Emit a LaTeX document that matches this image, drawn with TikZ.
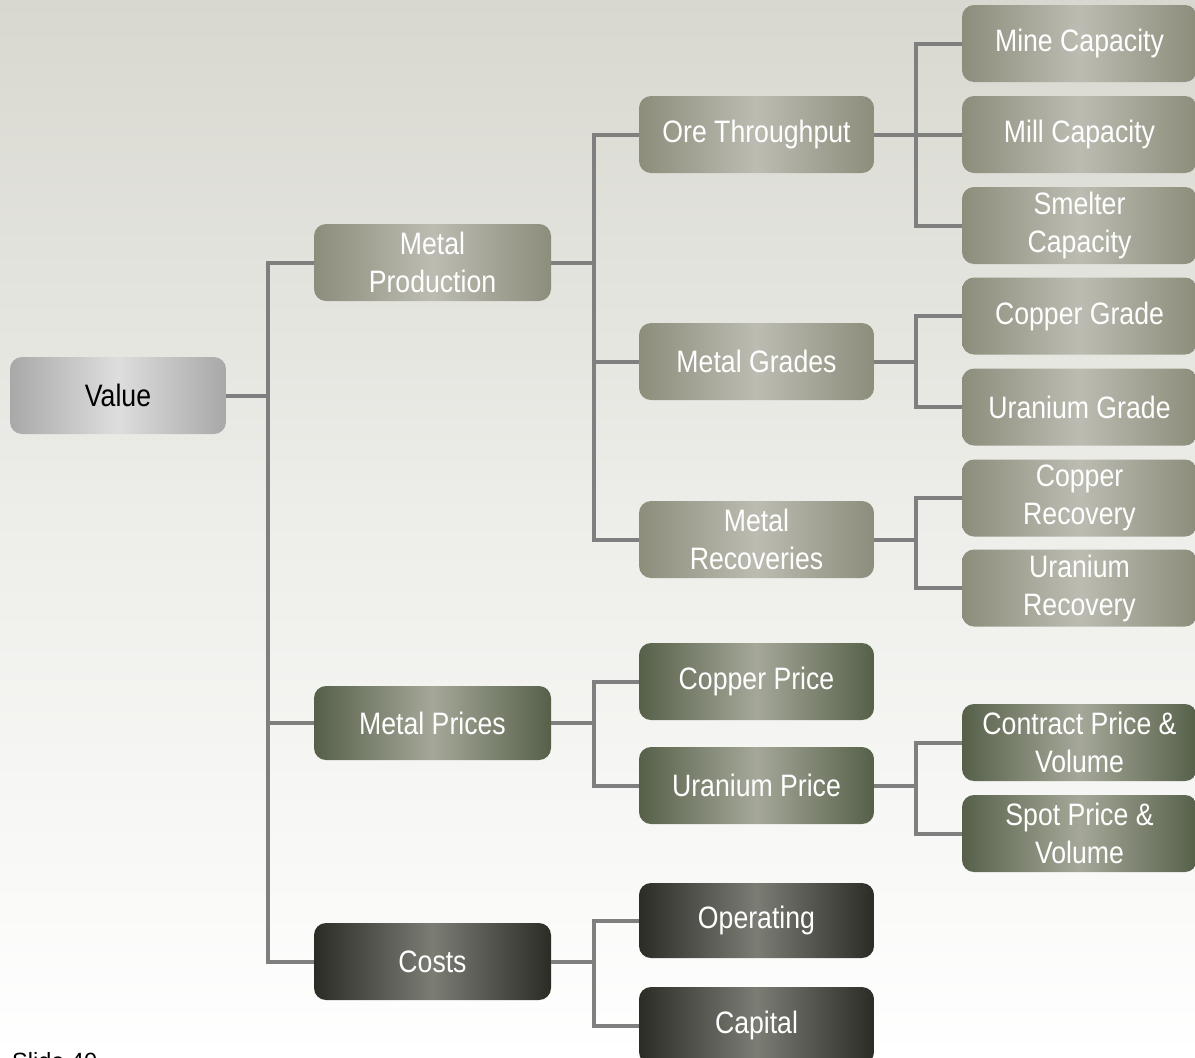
\documentclass[tikz,border=0pt]{standalone}
\usepackage{fontspec}
\setmainfont{Liberation Sans}[FakeStretch=0.86]
\newfontfamily\plainfont{Liberation Sans}
\definecolor{bgtop}{HTML}{D8D8D0}
\definecolor{bgbot}{HTML}{FFFFFF}
\definecolor{lineg}{HTML}{7F7F80}
\definecolor{vEdge}{HTML}{A8A8A8}
\definecolor{vMid}{HTML}{DEDEDE}
\definecolor{aEdge}{HTML}{8C8D7B}
\definecolor{aMid}{HTML}{BCBCB2}
\definecolor{bEdge}{HTML}{566049}
\definecolor{bMid}{HTML}{A5A899}
\definecolor{cEdge}{HTML}{2B2C26}
\definecolor{cMid}{HTML}{7B7C74}
\begin{document}
\begin{tikzpicture}[x=1pt,y=-1pt,
  box/.style={rectangle, rounded corners=12pt, minimum width=235pt, minimum height=77pt,
    inner sep=0pt, align=center, text=white, font=\fontsize{31}{38}\selectfont},
  grpV/.style={left color=vEdge, right color=vEdge, middle color=vMid, text=black},
  grpA/.style={left color=aEdge, right color=aEdge, middle color=aMid},
  grpB/.style={left color=bEdge, right color=bEdge, middle color=bMid},
  grpC/.style={left color=cEdge, right color=cEdge, middle color=cMid},
  conn/.style={draw=lineg, line width=4pt}]
\useasboundingbox (0,0) rectangle (1195,1058);
\shade[top color=bgtop, bottom color=bgbot, middle color=bgbot!55!bgtop] (0,0) rectangle (1195,1058);

% level 0
\node[box, grpV, minimum width=216pt] (val) at (118,395.5) {Value};
% level 1
\node[box, grpA, minimum width=237pt] (mp) at (432.5,262.5) {Metal\\Production};
\node[box, grpB, minimum width=237pt, minimum height=74pt] (mpr) at (432.5,723) {Metal Prices};
\node[box, grpC, minimum width=237pt] (cost) at (432.5,961.5) {Costs};
% level 2
\node[box, grpA] (ore) at (756.5,134.5) {Ore Throughput};
\node[box, grpA] (gra) at (756.5,361.5) {Metal Grades};
\node[box, grpA] (rec) at (756.5,539.5) {Metal\\Recoveries};
\node[box, grpB] (cpp) at (756.5,681.5) {Copper Price};
\node[box, grpB] (urp) at (756.5,785.5) {Uranium Price};
\node[box, grpC, minimum height=75pt] (opr) at (756.5,920.5) {Operating};
\node[box, grpC] (cap) at (756.5,1025.5) {Capital};
% level 3
\node[box, grpA] (mine) at (1079.5,43.5) {Mine Capacity};
\node[box, grpA] (mill) at (1079.5,134.5) {Mill Capacity};
\node[box, grpA] (smel) at (1079.5,225.5) {Smelter\\Capacity};
\node[box, grpA] (cug) at (1079.5,316) {Copper Grade};
\node[box, grpA] (ug) at (1079.5,407) {Uranium Grade};
\node[box, grpA] (cur) at (1079.5,498) {Copper\\Recovery};
\node[box, grpA] (ur) at (1079.5,588) {Uranium\\Recovery};
\node[box, grpB] (con) at (1079.5,742.5) {Contract Price \&\\Volume};
\node[box, grpB] (spot) at (1079.5,833.5) {Spot Price \&\\Volume};

\node[anchor=base west, inner sep=0pt, font=\plainfont\fontsize{23.5}{28}\selectfont] (slide) at (12,1069) {Slide 40};

% junction coordinates
\coordinate (j0) at (268,395.5);
\coordinate (j1) at (594,262.5);
\coordinate (j2) at (594,723);
\coordinate (j3) at (594,961.5);
\coordinate (j4) at (916,134.5);
\coordinate (j5) at (916,361.5);
\coordinate (j6) at (916,539.5);
\coordinate (j7) at (916,785.5);

% connectors
\draw[conn] (val.east) -- (j0);
\draw[conn] (mp.west) -| (j0);
\draw[conn] (cost.west) -| (j0);
\draw[conn] (mpr.west) -- (mpr.west -| j0);

\draw[conn] (mp.east) -- (j1);
\draw[conn] (ore.west) -| (j1);
\draw[conn] (rec.west) -| (j1);
\draw[conn] (gra.west) -- (gra.west -| j1);

\draw[conn] (mpr.east) -- (j2);
\draw[conn] (cpp.west) -| (j2);
\draw[conn] (urp.west) -| (j2);

\draw[conn] (cost.east) -- (j3);
\draw[conn] (opr.west) -| (j3);
\draw[conn] (cap.west) -| (j3);

\draw[conn] (ore.east) -- (mill.west);
\draw[conn] (mine.west) -| (j4);
\draw[conn] (smel.west) -| (j4);

\draw[conn] (gra.east) -- (j5);
\draw[conn] (cug.west) -| (j5);
\draw[conn] (ug.west) -| (j5);

\draw[conn] (rec.east) -- (j6);
\draw[conn] (cur.west) -| (j6);
\draw[conn] (ur.west) -| (j6);

\draw[conn] (urp.east) -- (j7);
\draw[conn] (con.west) -| (j7);
\draw[conn] (spot.west) -| (j7);
\end{tikzpicture}
\end{document}
